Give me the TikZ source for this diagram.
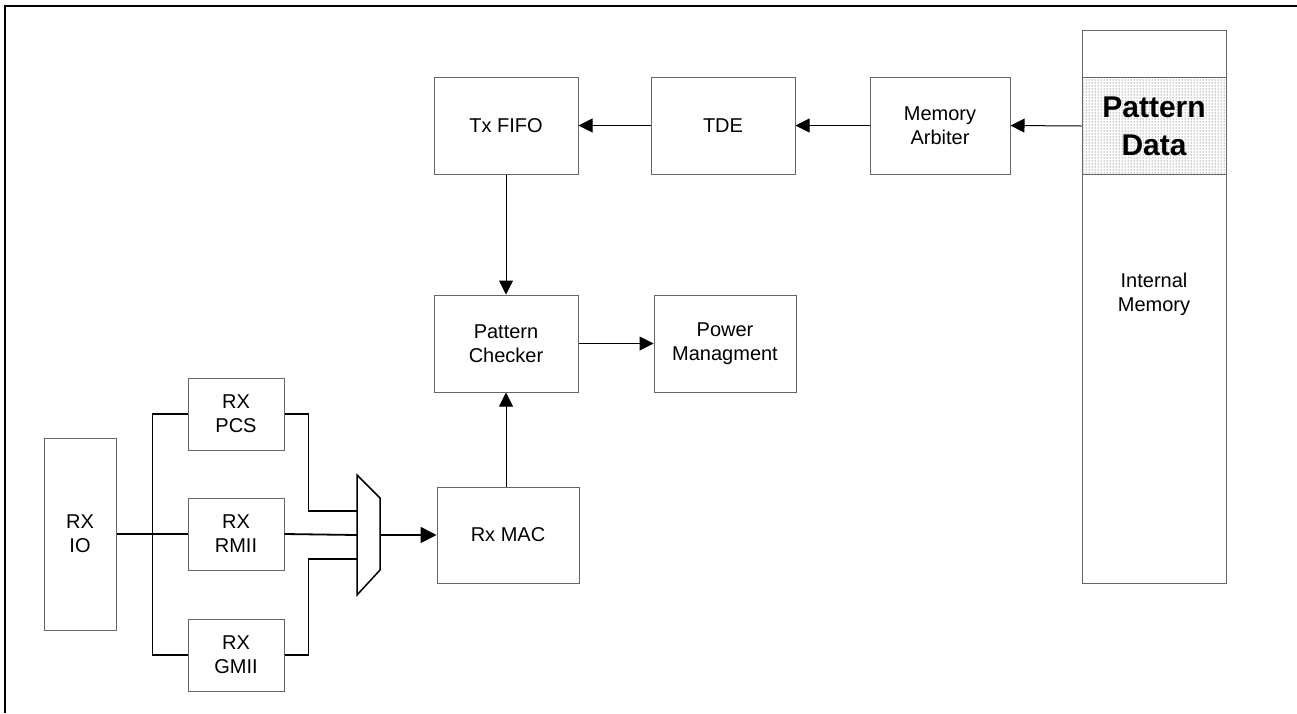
\documentclass[tikz,border=0pt]{standalone}
\usepackage{fontspec}
\setmainfont{Liberation Sans}
\usetikzlibrary{arrows.meta,positioning,patterns}

\begin{document}
\begin{tikzpicture}[x=1pt, y=-1pt,
  blk/.style={draw=black!60, line width=1pt, minimum width=144pt, minimum height=97pt,
              align=center, inner sep=0pt, font=\fontsize{20}{24}\selectfont},
  rxblk/.style={blk, minimum width=96pt, minimum height=72pt},
  bus/.style={line width=1.8pt},
  flow/.style={->, line width=1pt},
  >={Triangle[length=14pt, width=14pt]}, node distance=72pt]
  \useasboundingbox (0,0) rectangle (1297,713);
  % frame
  \draw[line width=2pt] (5,713) -- (5,6) -- (1297,6);

  % transmit path
  \node[blk] (txfifo) at (506,125.5) {Tx FIFO};
  \node[blk, right=72pt of txfifo] (tde) {TDE};
  \node[blk, right=74pt of tde, minimum width=140pt] (arbiter) {Memory\\ Arbiter};
  \node[blk, minimum height=553pt] (intmem) at (1154,306.5) {};
  \node[blk, pattern=dots, pattern color=black!85, font=\fontsize{30}{38}\selectfont\bfseries]
        (patdata) at (1154,126) {Pattern\\ Data};
  \node[align=center, font=\fontsize{20}{24}\selectfont] (memlbl) at (1154,294) {Internal\\ Memory};

  % checker
  \node[blk, below=120pt of txfifo] (checker) {Pattern\\ Checker};
  \node[blk, right=75pt of checker, minimum width=142pt] (power) {Power\\ Managment};
  \node[blk, minimum width=142pt, minimum height=96pt] (rxmac) at (508,535) {Rx MAC};

  % receive side
  \node[rxblk, minimum width=72pt, minimum height=192pt] (rxio) at (80,534) {RX\\ IO};
  \node[rxblk] (rxpcs)  at (236,414) {RX\\ PCS};
  \node[rxblk] (rxrmii) at (236,534) {RX\\ RMII};
  \node[rxblk] (rxgmii) at (236,655) {RX\\ GMII};

  % mux
  \draw[line width=1.5pt] (357,475) -- (380,498) -- (380,570) -- (357,595) -- cycle;
  \coordinate (muxa) at (357,511);
  \coordinate (muxb) at (357,535);
  \coordinate (muxc) at (357,559);
  \coordinate (muxout) at (380,535);

  \draw[bus] (rxio.east |- rxrmii.west) -- (rxrmii.west);
  \draw[bus] (rxpcs.west) -- ++(-35,0) |- (rxgmii.west);
  \draw[bus] (rxpcs.east) -- ++(24,0) |- (muxa);
  \draw[bus] (rxrmii.east) -- (muxb);
  \draw[bus] (rxgmii.east) -- ++(24,0) |- (muxc);
  \draw[bus, -{Triangle[length=16pt, width=16pt]}] (muxout) -- (rxmac.west |- muxout);

  \draw[flow] (rxmac.north -| checker.south) -- (checker.south);
  \draw[flow] (txfifo) -- (checker);
  \draw[flow] (checker) -- (power);
  \draw[flow] (tde) -- (txfifo);
  \draw[flow] (arbiter) -- (tde);
  \draw[flow] (patdata.west) -- (arbiter.east);
\end{tikzpicture}
\end{document}
